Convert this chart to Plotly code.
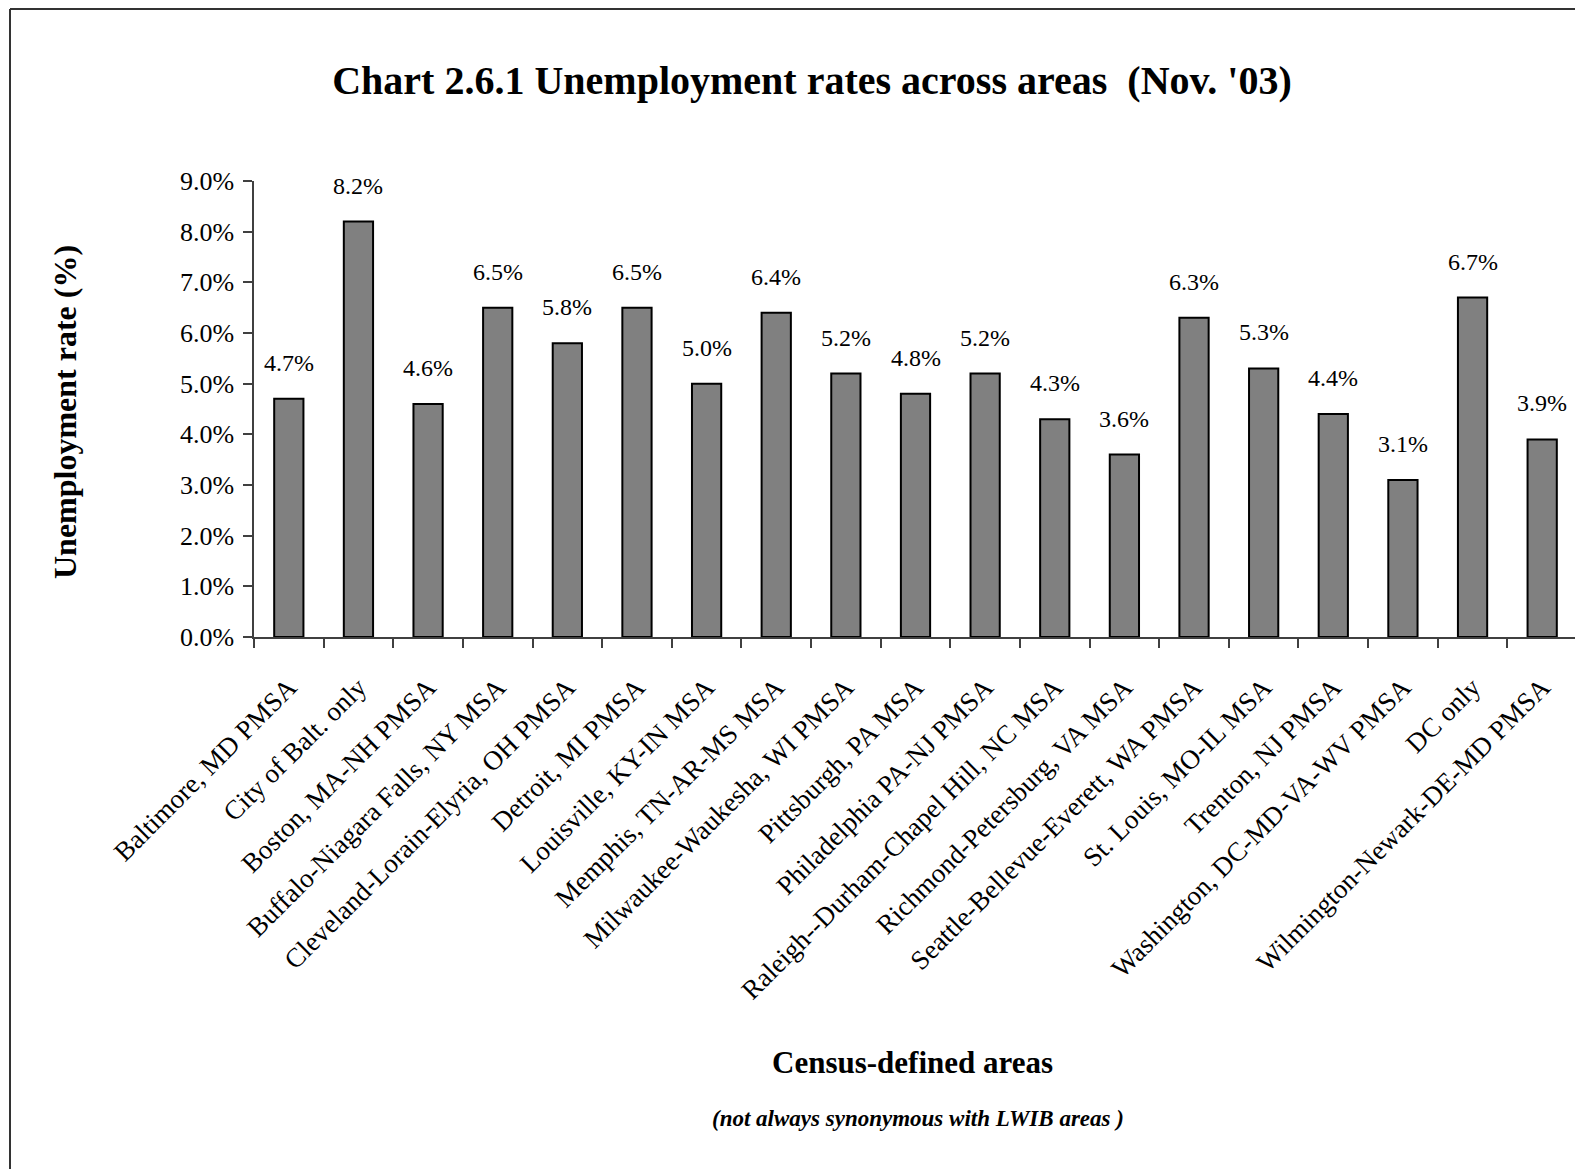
import plotly.graph_objects as go

categories = [
    "Baltimore, MD PMSA", "City of Balt. only", "Boston, MA-NH PMSA",
    "Buffalo-Niagara Falls, NY MSA", "Cleveland-Lorain-Elyria, OH PMSA",
    "Detroit, MI PMSA", "Louisville, KY-IN MSA", "Memphis, TN-AR-MS MSA",
    "Milwaukee-Waukesha, WI PMSA", "Pittsburgh, PA MSA", "Philadelphia PA-NJ PMSA",
    "Raleigh--Durham-Chapel Hill, NC MSA", "Richmond-Petersburg, VA MSA",
    "Seattle-Bellevue-Everett, WA PMSA", "St. Louis, MO-IL MSA", "Trenton, NJ PMSA",
    "Washington, DC-MD-VA-WV PMSA", "DC only", "Wilmington-Newark-DE-MD PMSA",
]
rates = [4.7, 8.2, 4.6, 6.5, 5.8, 6.5, 5.0, 6.4, 5.2, 4.8, 5.2, 4.3, 3.6, 6.3, 5.3, 4.4, 3.1, 6.7, 3.9]
y_ticks = [0, 1, 2, 3, 4, 5, 6, 7, 8, 9]
y_tick_labels = [f"{v:.1f}%" for v in y_ticks]

FONT = "Book Antiqua, Palatino Linotype, Liberation Serif, serif"

# page offset (body margin of the html page)
OFF = 8
PAGE_W, PAGE_H = 1583, 1169
W, H = PAGE_W - OFF, PAGE_H - OFF
# plot area in page pixels: x 254..1577, y 181..637
L = 254 - OFF
T = 181 - OFF
R = W - (1577 - OFF)
B = H - (637 - OFF)
PW, PH = W - L - R, H - T - B

def px_x(x):
    return (x - OFF - L) / PW

def px_y(y):
    return (H - B - (y - OFF)) / PH

fig = go.Figure()
fig.add_trace(go.Bar(
    x=categories, y=rates,
    marker=dict(color="#808080", line=dict(color="#000000", width=2)),
    hoverinfo="x+y",
))

annotations = []
for c, v in zip(categories, rates):
    annotations.append(dict(
        x=c, y=v, xref="x", yref="y", text=f"{v:.1f}%", showarrow=False,
        yanchor="middle", yshift=36,
        font=dict(family=FONT, size=24, color="#000000"),
    ))

annotations.append(dict(
    x=px_x(65), y=px_y(412), xref="paper", yref="paper",
    text="<b>Unemployment rate (%)</b>", textangle=-90, showarrow=False,
    xanchor="center", yanchor="middle",
    font=dict(family=FONT, size=32, color="#000000"),
))
annotations.append(dict(
    x=px_x(912), y=px_y(1062), xref="paper", yref="paper",
    text="<b>Census-defined areas</b>", showarrow=False,
    xanchor="center", yanchor="middle",
    font=dict(family=FONT, size=31, color="#000000"),
))
annotations.append(dict(
    x=px_x(918), y=px_y(1118), xref="paper", yref="paper",
    text="<b><i>(not always synonymous with LWIB areas )</i></b>", showarrow=False,
    xanchor="center", yanchor="middle",
    font=dict(family=FONT, size=23, color="#000000"),
))

TOP_LINE_Y = OFF + 1  # as close as possible to the page top edge
shapes = [
    dict(type="line", xref="paper", yref="paper",
         x0=px_x(10), y0=px_y(TOP_LINE_Y), x1=px_x(PAGE_W + 10), y1=px_y(TOP_LINE_Y),
         line=dict(color="#333333", width=2)),
    dict(type="line", xref="paper", yref="paper",
         x0=px_x(10), y0=px_y(TOP_LINE_Y), x1=px_x(10), y1=px_y(PAGE_H + 10),
         line=dict(color="#333333", width=2)),
]

fig.update_layout(
    width=W, height=H, autosize=False,
    margin=dict(l=L, r=R, t=T, b=B, pad=0),
    paper_bgcolor="white", plot_bgcolor="white",
    showlegend=False,
    bargap=0.58,
    title=dict(
        text="<b>Chart 2.6.1 Unemployment rates across areas  (Nov. '03)</b>",
        x=(812 - OFF) / W, xanchor="center", xref="container",
        y=1 - (80 - OFF) / H, yanchor="middle", yref="container",
        font=dict(family=FONT, size=40, color="#000000"),
    ),
    font=dict(family=FONT, color="#000000"),
    annotations=annotations,
    shapes=shapes,
)

fig.update_xaxes(
    type="category",
    tickangle=-45,
    tickson="boundaries",
    ticks="outside", ticklen=9, tickcolor="#404040", tickwidth=1.5,
    showline=True, linecolor="#404040", linewidth=1.5,
    showgrid=False, zeroline=False,
    automargin=False,
    ticklabelstandoff=22,
    tickfont=dict(family=FONT, size=27, color="#000000"),
)
fig.update_yaxes(
    range=[0, 9],
    tickvals=y_ticks, ticktext=y_tick_labels,
    ticks="outside", ticklen=9, tickcolor="#404040", tickwidth=1.5,
    showline=True, linecolor="#404040", linewidth=1.5,
    showgrid=False, zeroline=False,
    automargin=False,
    ticklabelstandoff=4,
    tickfont=dict(family=FONT, size=26, color="#000000"),
)

fig.write_html("out.html")
